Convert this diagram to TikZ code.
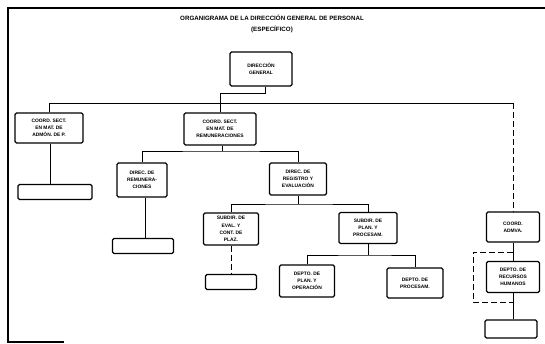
\documentclass[tikz,border=0pt]{standalone}
\usepackage{fontspec}
\setmainfont{Liberation Sans}
\begin{document}
\begin{tikzpicture}[x=1pt,y=-1pt,
  box/.style n args={2}{draw, line width=1.3pt, rounded corners=1.5pt, align=center,
    inner sep=0pt, minimum width=#1pt, minimum height=#2pt,
    font=\fontsize{4.9}{7.2}\selectfont\bfseries},
  conn/.style={line width=1pt},
  dconn/.style={line width=1pt, dash pattern=on 6pt off 3pt},
  frame/.style={line width=1.1pt}]
\useasboundingbox (0,0) rectangle (545,343);

% outer frame (partial)
\coordinate (f1) at (8,8);
\coordinate (f2) at (545,8);
\coordinate (f3) at (8,342);
\coordinate (f4) at (64,342);
\draw[frame] (f2) -- (f1) -- (f3) -- (f4);

% title
\node[font=\fontsize{6.2}{8}\selectfont\bfseries] (t1) at (272,18)
  {ORGANIGRAMA DE LA DIRECCIÓN GENERAL DE PERSONAL};
\node[font=\fontsize{6.2}{8}\selectfont\bfseries] (t2) at (272,29) {(ESPECÍFICO)};

% boxes
\node[box={62}{34}] (dg) at (261,69) {DIRECCIÓN\\GENERAL};
\node[box={68}{30}] (c1) at (49,128) {COORD. SECT.\\EN MAT. DE\\ADMÓN. DE P.};
\node[box={72}{32}] (c2) at (220,129) {COORD. SECT.\\EN MAT. DE\\REMUNERACIONES};
\node[box={74}{15}] (e1) at (55,192) {};
\node[box={50}{34}] (d1) at (142,180) {DIREC. DE\\REMUNERA-\\CIONES};
\node[box={57}{32}] (d2) at (298,179) {DIREC. DE\\REGISTRO Y\\EVALUACIÓN};
\node[box={61}{15}] (e2) at (143,246) {};
\node[box={55}{32}] (s1) at (231,229) {SUBDIR. DE\\EVAL. Y\\CONT. DE\\PLAZ.};
\node[box={58}{31}] (s2) at (368,228) {SUBDIR. DE\\PLAN. Y\\PROCESAM.};
\node[box={51}{15}] (e3) at (231,282) {};
\node[box={55}{32}] (p1) at (307,281) {DEPTO. DE\\PLAN. Y\\OPERACIÓN};
\node[box={56}{30}] (p2) at (415,283) {DEPTO. DE\\PROCESAM.};
\node[box={53}{30}] (ca) at (513,227) {COORD.\\ADMVA.};
\node[box={53}{31}] (rh) at (513,277) {DEPTO. DE\\RECURSOS\\HUMANOS};
\node[box={52}{18}] (e4) at (511,329) {};

% junction points
\coordinate (j0) at (265,93);
\coordinate (b0) at (50,103);
\coordinate (b1) at (222,151);
\coordinate (b2) at (298,204);
\coordinate (b3) at (368,255);
\coordinate (k1) at (473,252);
\coordinate (k2) at (473,302);

% connectors
\draw[conn] (dg.south -| j0) -- (j0) -| (c2.north);
\draw[conn] (c1.north) -- (c1.north |- b0) -- (ca.north |- b0);
\draw[dconn] (ca.north |- b0) -- (ca.north);
\draw[conn] (c1.south -| e1.north) ++(-5,0) coordinate (c1b) -- (c1b |- e1.north);
\draw[conn] (c2.south -| b1) -- (b1);
\draw[conn] (d1.north) |- (b1) -| (d2.north);
\draw[conn] (d1.south) ++(3,0) coordinate (d1b) -- (d1b |- e2.north);
\draw[conn] (d2.south) -- (b2);
\draw[conn] (s1.north) |- (b2) -| (s2.north);
\draw[dconn] (s1.south) -- (e3.north);
\draw[conn] (s2.south) -- (b3);
\draw[conn] (p1.north) |- (b3) -| (p2.north);
\draw[conn] (ca.south) -- (rh.north);
\draw[dconn] (rh.north |- k1) -- (k1) -- (k2) -- (rh.south |- k2);
\draw[conn] (rh.south) -- (rh.south |- e4.north);
\end{tikzpicture}
\end{document}
